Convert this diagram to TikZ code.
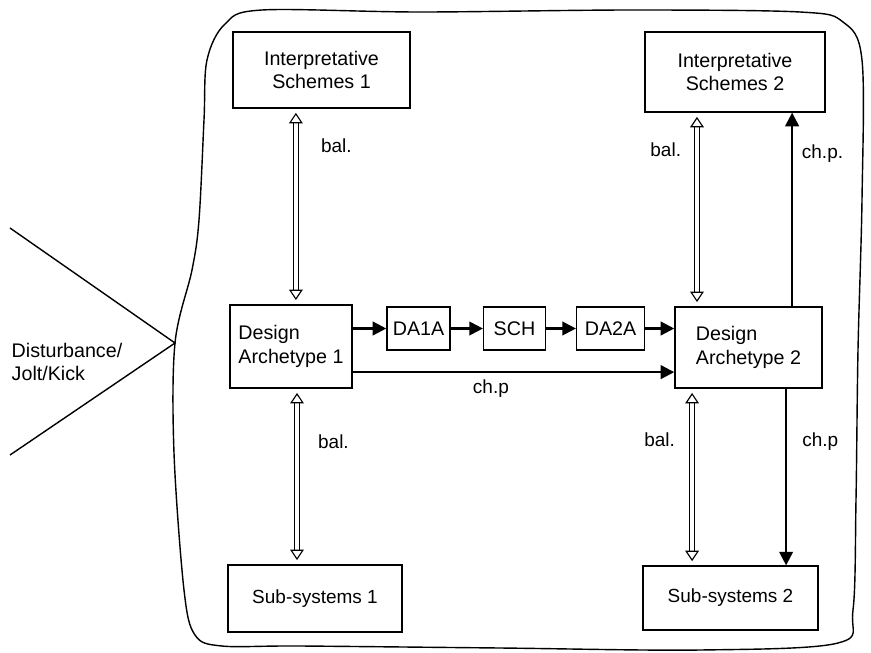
\documentclass[tikz,border=0pt]{standalone}
\usepackage{fontspec}
\setmainfont{Liberation Sans}
\usetikzlibrary{arrows.meta}

\begin{document}
\begin{tikzpicture}[
    x=0.025cm, y=-0.025cm,
    node distance=2.4cm,
    font=\fontsize{14}{17}\selectfont,
    block/.style={
      rectangle,
      draw,
      line width=0.9pt,
      align=center,
      inner sep=2pt
    },
    lbl/.style={font=\fontsize{13.5}{16}\selectfont},
    line/.style={draw, -{Triangle[length=0.34cm,width=0.34cm]}, line width=1.6pt},
    bal/.style={draw, double, double distance=3pt, line width=0.65pt,
      shorten <=3pt, shorten >=3pt,
      {Triangle[open,line width=0.8pt,length=0.26cm,width=0.34cm]}-{Triangle[open,line width=0.8pt,length=0.26cm,width=0.34cm]}},
    frame/.style={draw, line width=1pt},
]
    \useasboundingbox (0,0) rectangle (871,653);

    \draw [frame] plot [smooth cycle, tension=0.55] coordinates {
      (207,60) (225,24) (262,10) (420,12) (630,10) (800,12) (843,22) (862,60)
      (862,200) (858,350) (856,500) (853,610) (838,643) (700,650) (500,648)
      (300,646) (222,646) (195,635) (184,590) (174,453) (175,343) (192,270)
      (199,220) (204,120)};

    \coordinate (tip) at (175,343);
    \draw [frame] (10,228) -- (tip) -- (10,455);
    \node [align=left] (kick) at (67,362) {Disturbance/\\Jolt/Kick};

    \node [block, minimum width=4.43cm, minimum height=1.9cm] (is1) at (321.5,70) {Interpretative\\Schemes 1};
    \node [block, minimum width=4.5cm, minimum height=2.0cm] (is2) at (735,72) {Interpretative\\Schemes 2};
    \node [block, align=left, minimum width=3.05cm, minimum height=2.08cm] (da1) at (291,346.5) {Design\\Archetype 1};
    \node [block, minimum width=1.58cm, minimum height=1.08cm] (da1a) at (418.5,328.5) {DA1A};
    \node [block, right of=da1a, minimum width=1.55cm, minimum height=1.08cm] (sch) {SCH};
    \node [block, right of=sch, minimum width=1.7cm, minimum height=1.08cm] (da2a) {DA2A};
    \node [block, align=left, minimum width=3.68cm, minimum height=2.03cm] (da2) at (748.5,347.5) {Design\\Archetype 2};
    \node [block, lbl, minimum width=4.35cm, minimum height=1.68cm] (ss1) at (315,598.5) {Sub-systems 1};
    \node [block, lbl, minimum width=4.38cm, minimum height=1.6cm] (ss2) at (730.5,598) {Sub-systems 2};

    \path [line] (da1.east |- da1a) -- (da1a);
    \path [line] (da1a) -- (sch);
    \path [line] (sch) -- (da2a);
    \path [line] (da2a) -- (da2a -| da2.west);

    \coordinate (chs) at ([yshift=-0.64cm]da1.east);
    \path [line] (chs) -- (chs -| da2.west) node [lbl, pos=0.43, below=1pt] {ch.p};

    \coordinate (b1) at ([xshift=-0.64cm]is1.south);
    \coordinate (b2) at ([xshift=0.15cm]da1.south);
    \coordinate (b3) at ([xshift=-0.95cm]is2.south);
    \coordinate (b4) at ([xshift=-1.41cm]da2.south);
    \path [bal] (b1) -- (b1 |- da1.north) node [lbl, pos=0.19, right=0.5cm] {bal.};
    \path [bal] (b2) -- (b2 |- ss1.north) node [lbl, pos=0.3, right=0.4cm] {bal.};
    \path [bal] (b3) -- (b3 |- da2.north) node [lbl, pos=0.19, left=0.27cm] {bal.};
    \path [bal] (b4) -- (b4 |- ss2.north) node [lbl, pos=0.29, left=0.3cm] {bal.};

    \coordinate (c1) at ([xshift=1.09cm]da2.north);
    \coordinate (c2) at ([xshift=0.94cm]da2.south);
    \path [line] (c1) -- (c1 |- is2.south) node [lbl, pos=0.79, right=0.1cm] {ch.p.};
    \path [line] (c2) -- (c2 |- ss2.north) node [lbl, pos=0.3, right=0.26cm] {ch.p};
\end{tikzpicture}
\end{document}
